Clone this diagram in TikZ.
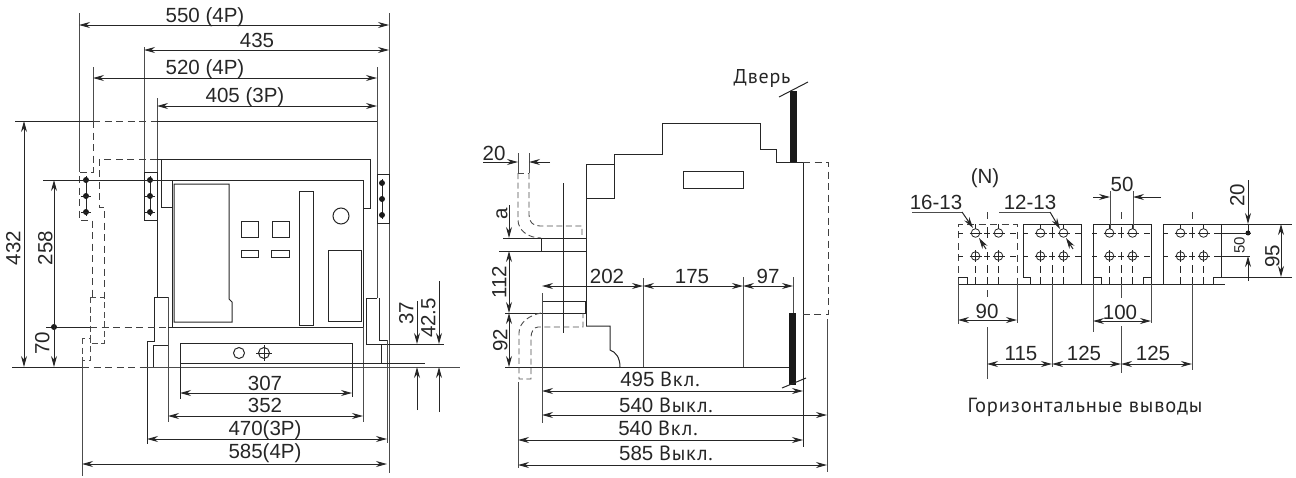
\documentclass[tikz,border=0pt]{standalone}
\usepackage{fontspec}
\setmainfont{Liberation Sans}
\newfontfamily\rufont[LetterSpace=4]{PT Sans}
\usetikzlibrary{arrows.meta}

\begin{document}
\begin{tikzpicture}[
    x=1pt, y=-1pt,
    part/.style={draw=black!85, line width=1pt},
    fine/.style={draw=black!85, line width=0.8pt},
    ext/.style={draw=black!70, line width=1pt},
    hidden/.style={draw=black!75, line width=1pt, dash pattern=on 7pt off 4.5pt},
    hiddenfine/.style={draw=black!70, line width=0.9pt, dash pattern=on 6pt off 3.5pt},
    dimline/.style={draw=black!85, line width=1pt, {Stealth[length=11pt,width=6pt]}-{Stealth[length=11pt,width=6pt]}},
    dimin/.style={draw=black!85, line width=1pt, -{Stealth[length=11pt,width=6pt]}},
    lbl/.style={inner sep=0pt, text=black!85, text height=14.7pt, text depth=0pt, font=\fontsize{20.5}{22}\selectfont},
    lblv/.style={lbl, rotate=90},
    door/.style={fill=black!90, draw=none}
]
\useasboundingbox (0,0) rectangle (1296,477);

\draw[ext] (79,13) -- (79,172);
\draw[ext] (389,13) -- (389,473);
\draw[ext] (144,47) -- (144,172);
\draw[ext] (93,67) -- (93,121);
\draw[ext] (377,67) -- (377,298);
\draw[ext] (157,98) -- (157,172);
\draw[dimline] (79,25) -- (389,25);
\draw[dimline] (144,50) -- (389,50);
\draw[dimline] (93,78) -- (377,78);
\draw[dimline] (157,106) -- (377,106);
\node[lbl] (dim550) at (205,15) {550 (4P)};
\node[lbl] (dim435) at (257,40) {435};
\node[lbl] (dim520) at (205,67) {520 (4P)};
\node[lbl] (dim405) at (245,95) {405 (3P)};

\draw[part] (15,121) -- (93,121);
\draw[hidden] (93,121) -- (157,121);
\draw[part] (157,121) -- (377,121);
\draw[hidden] (93,121) -- (93,172) -- (79,172) -- (79,220) -- (92,220) -- (92,297);
\draw[hidden] (157,159) -- (99,159) -- (99,207) -- (104,207) -- (104,297);
\draw[hiddenfine] (90,297) rectangle (104,343);
\draw[hiddenfine] (82,338) -- (82,360) -- (90,360) -- (90,338) -- cycle;
\draw[part] (157,159) -- (370,159) -- (370,208) -- (363,208);
\draw[part] (161,159) -- (161,207) -- (172,207);

\draw[part] (43,180) -- (172,180);
\draw[part] (172,180) rectangle (363,327);
\draw[part] (174,184) -- (229,184) -- (229,299) -- (232,302) -- (232,322) -- (174,322) -- cycle;
\draw[part] (299,191) rectangle (313,325);
\draw[part] (341,216) circle (8);
\draw[part] (241,221) rectangle (258,237);
\draw[part] (272,221) rectangle (289,237);
\draw[part] (241,250) rectangle (258,257);
\draw[part] (271,250) rectangle (289,257);
\draw[part] (328,250) rectangle (361,321);

\draw[part] (144,172) rectangle (157,220);
\draw[part] (377,174) rectangle (389,223);
\draw[part] (86,176) -- (86,216);
\draw[part] (150,176) -- (150,216);
\draw[part] (382,179) -- (382,219);
\foreach \dy in {180,196,212} {
    \fill[black!90] (86,\dy) circle (3);
    \fill[black!90] (150,\dy) circle (3);
    \fill[black!90] (382,\dy+3) circle (3);
    \draw[part] (81,\dy) -- (91,\dy);
    \draw[part] (145,\dy) -- (155,\dy);
}

\draw[part] (157,220) -- (157,297) -- (154.5,297) -- (154.5,341) -- (147,341) -- (147,444);
\draw[part] (154.5,297) -- (168,297);
\draw[ext] (168,297) -- (168,422);
\draw[part] (153,367) -- (153,345) -- (168,345);
\draw[part] (46,327) -- (90,327);
\draw[hidden] (90,327) -- (168,327);
\draw[part] (168,327) -- (172,327);
\fill[black!90] (54,327) circle (3);
\draw[part] (377,298) -- (366,298) -- (366,344) -- (444,344);
\draw[part] (379,298) -- (379,340) -- (388,340);
\draw[ext] (387,340) -- (387,443);
\draw[part] (381,344) -- (381,363);
\draw[ext] (363,327) -- (363,422);

\draw[part] (12,367) -- (82,367);
\draw[hidden] (82,367) -- (147,367);
\draw[ext] (147,367) -- (460,367);
\draw[ext] (82,360) -- (82,476);
\draw[part] (180,363) -- (425,363);
\draw[part] (180,399) -- (180,343) -- (352,343) -- (352,397);
\draw[part] (239,353) circle (5.5);
\draw[part] (264,353) circle (5.5);
\draw[part] (256,353) -- (272,353);
\draw[part] (264,345) -- (264,361);

\draw[dimline] (24,121) -- (24,367);
\draw[dimline] (54,180) -- (54,367);
\node[lblv] (dim432) at (13,248) {432};
\node[lblv] (dim258) at (45,248) {258};
\node[lblv] (dim70) at (42,343) {70};
\draw[dimline] (180,393) -- (352,393);
\draw[dimline] (168,416) -- (363,416);
\draw[dimline] (147,439) -- (387,439);
\draw[dimline] (82,464) -- (387,464);
\node[lbl] (dim307) at (265,383) {307};
\node[lbl] (dim352) at (265,405) {352};
\node[lbl] (dim470) at (265,428) {470(3P)};
\node[lbl] (dim585) at (265,451) {585(4P)};
\draw[dimin] (417,301) -- (417,344);
\draw[dimin] (417,410) -- (417,367);
\draw[dimin] (439,281) -- (439,344);
\draw[dimin] (439,412) -- (439,367);
\node[lblv] (dim37) at (406,313) {37};
\node[lblv] (dim425) at (428,318) {42.5};

\draw[part] (586,238) -- (586,164) -- (614,164) -- (614,198) -- (586,198);
\draw[part] (614,164) -- (614,154) -- (662,154) -- (662,123) -- (760,123) -- (760,149) -- (776,149) -- (776,162) -- (803,162) -- (803,447);
\draw[part] (683,171) rectangle (743,188);
\fill[door] (790,91) rectangle (796.5,162);
\draw[part] (779,97) -- (808,82);
\node[lbl, font=\rufont\fontsize{20}{22}\selectfont] (door) at (762,76) {Дверь};
\draw[hidden] (803,162) -- (828,162) -- (828,314) -- (803,314);

\draw[ext] (518,153) -- (518,173);
\draw[ext] (529,153) -- (529,173);
\draw[dimin] (483,162) -- (518,162);
\draw[dimin] (550,162) -- (529,162);
\node[lbl] (dim20a) at (494,153) {20};
\draw[hiddenfine] (518,173) -- (529,173);
\draw[hiddenfine] (518,173) -- (518,220) .. controls (518,230) and (528,238) .. (541,238);
\draw[hiddenfine] (529,173) -- (529,215) .. controls (529,222) and (533,226) .. (540,226) -- (582,226) -- (582,238);
\draw[part] (541,238) rectangle (586,251);
\draw[part] (563,183) -- (563,333);
\draw[part] (586,251) -- (586,301);
\draw[part] (542,301) rectangle (586,313);
\draw[part, line width=2pt] (586,301) -- (586,313);
\draw[part] (586,326) -- (610,326) -- (610,350) .. controls (616,352) and (620,358) .. (620,367);
\draw[part] (586,313) -- (586,326);
\draw[part] (505,367) -- (617,367);
\draw[part] (617,367) -- (789,367);
\draw[part] (505,313) -- (542,313);
\draw[part] (503,238) -- (541,238);
\draw[part] (499,251) -- (541,251);
\draw[hiddenfine] (541,313) .. controls (530,315) and (519,322) .. (519,333) -- (519,379) -- (531,379) -- (531,337) .. controls (531,332) and (534,327) .. (538,327) -- (583,327) -- (583,313);

\draw[dimin] (509,205) -- (509,238);
\draw[dimline] (509,251) -- (509,313);
\draw[dimline] (509,313) -- (509,367);
\node[lblv] (dima) at (500,214) {a};
\node[lblv] (dim112) at (499,282) {112};
\node[lblv] (dim92) at (500,340) {92};

\draw[ext] (542,293) -- (542,423);
\draw[ext] (643,278) -- (643,367);
\draw[ext] (743,277) -- (743,367);
\draw[ext] (793,277) -- (793,313);
\draw[ext] (827,319) -- (827,472);
\draw[ext] (518,382) -- (518,468);
\fill[door] (789,313) rectangle (795.5,385);
\draw[part] (782,388) -- (806,378);
\draw[dimline] (542,286) -- (643,286);
\draw[dimline] (643,286) -- (743,286);
\draw[dimline] (743,286) -- (793,286);
\node[lbl] (dim202) at (607,276) {202};
\node[lbl] (dim175) at (692,276) {175};
\node[lbl] (dim97) at (768,276) {97};
\draw[dimline] (542,391) -- (803,391);
\draw[dimline] (542,415) -- (827,415);
\draw[dimline] (518,440) -- (803,440);
\draw[dimline] (518,465) -- (827,465);
\node[lbl] (dim495) at (660,379) {495 {\rufont Вкл.}};
\node[lbl] (dim540a) at (666,405) {540 {\rufont Выкл.}};
\node[lbl] (dim540b) at (658,428) {540 {\rufont Вкл.}};
\node[lbl] (dim585b) at (666,453) {585 {\rufont Выкл.}};

\draw[part] (958,284) -- (1225,284);
\draw[hidden] (958,284) -- (958,224) -- (1017,224) -- (1017,284);
\draw[part] (958,277) -- (967,277) -- (967,284);
\draw[part] (1030,284) -- (1030,277) -- (1023,277) -- (1023,224) -- (1081,224) -- (1081,284);
\draw[part] (1093,284) -- (1093,224) -- (1151,224) -- (1151,284);
\draw[part] (1093,277) -- (1101,277) -- (1101,284);
\draw[part] (1151,277) -- (1143,277) -- (1143,284);
\draw[part] (1163,284) -- (1163,224) -- (1292,224);
\draw[part] (1221,224) -- (1221,277);
\draw[part] (1213,284) -- (1213,277) -- (1292,277);

\foreach \cx in {987,1052,1121,1192} {
    \foreach \hy in {233,256} {
        \draw[fine] (\cx-29,\hy) -- (\cx-24,\hy);
        \draw[fine] (\cx-3,\hy) -- (\cx+3,\hy);
        \draw[fine] (\cx+23,\hy) -- (\cx+29,\hy);
    }
    \foreach \ya/\yb in {227/238,252/260,265/273,277/284} {
        \draw[fine] (\cx,\ya) -- (\cx,\yb);
    }
    \foreach \hx in {-11.5,11.5} {
        \draw[fine] (\cx+\hx,233) circle (4.3);
        \draw[fine] (\cx+\hx,256) circle (4.3);
        \draw[fine] (\cx+\hx-6,233) -- (\cx+\hx+6,233);
        \draw[fine] (\cx+\hx-6,256) -- (\cx+\hx+6,256);
        \draw[fine] (\cx+\hx,224) -- (\cx+\hx,229);
        \draw[fine] (\cx+\hx,250) -- (\cx+\hx,262);
        \draw[fine] (\cx+\hx,266) -- (\cx+\hx,273);
        \draw[fine] (\cx+\hx,277) -- (\cx+\hx,284);
    }
}
\draw[hidden] (987,212) -- (987,222);
\draw[hidden] (1121,212) -- (1121,222);
\draw[hidden] (1192,212) -- (1192,222);

\node[lbl] (markn) at (985,176) {(N)};
\node[lbl] (hole16) at (936,202) {16-13};
\node[lbl] (hole12) at (1030,202) {12-13};
\draw[ext] (912,212) -- (962,212);
\draw[dimin] (962,212) -- (973,228);
\draw[dimin] (986,249) -- (979,238);
\draw[ext] (999,212) -- (1050,212);
\draw[dimin] (1050,212) -- (1060,229);
\draw[dimin] (1073,249) -- (1066,238);

\draw[ext] (958,284) -- (958,324);
\draw[ext] (1017,284) -- (1017,323);
\draw[ext] (1093,284) -- (1093,332);
\draw[ext] (1151,284) -- (1151,323);
\draw[ext] (1052,284) -- (1052,367);
\draw[ext] (1192,284) -- (1192,370);
\draw[ext] (1121,284) -- (1121,298);
\draw[ext] (1121,326) -- (1121,373);
\draw[ext] (987,327) -- (987,379);
\draw[hidden] (987,290) -- (987,300);
\draw[dimline] (958,320) -- (1017,320);
\draw[dimline] (1093,321) -- (1151,321);
\draw[dimline] (987,364) -- (1052,364);
\draw[dimline] (1052,364) -- (1121,364);
\draw[dimline] (1121,364) -- (1192,364);
\node[lbl] (dim90) at (987,311) {90};
\node[lbl] (dim100) at (1120,312) {100};
\node[lbl] (dim115) at (1021,353) {115};
\node[lbl] (dim125a) at (1084,353) {125};
\node[lbl] (dim125b) at (1153,353) {125};

\draw[ext] (1110,191) -- (1110,229);
\draw[ext] (1133,191) -- (1133,229);
\draw[dimin] (1093,197) -- (1110,197);
\draw[dimin] (1161,197) -- (1133,197);
\node[lbl] (dim50a) at (1122,184) {50};

\draw[dimin] (1248,180) -- (1248,224);
\draw[part] (1248,224) -- (1248,233);
\fill[black!90] (1248,233) circle (2.5);
\draw[part] (1214,233) -- (1251,233);
\draw[part] (1214,256) -- (1250,256);
\draw[dimin] (1248,281) -- (1248,256);
\draw[dimline] (1281,224) -- (1281,277);
\node[lblv] (dim20b) at (1237,195) {20};
\node[lblv, font=\fontsize{15}{17}\selectfont, text height=11pt] (dim50b) at (1239,245) {50};
\node[lblv] (dim95) at (1272,256) {95};

\node[lbl, font=\rufont\fontsize{20.5}{22}\selectfont] (caption) at (1085,405) {Горизонтальные выводы};
\end{tikzpicture}
\end{document}
